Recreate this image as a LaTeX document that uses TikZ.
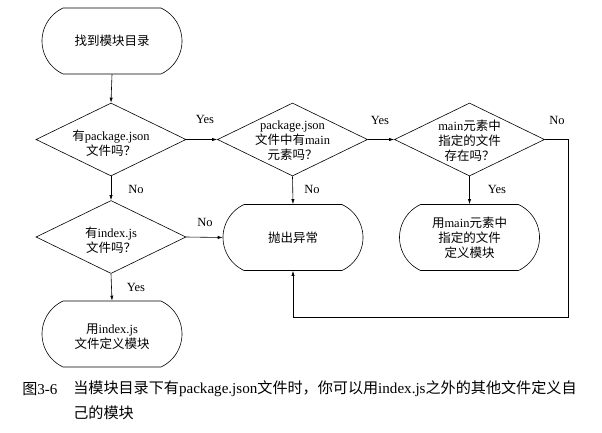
\documentclass[tikz,border=0pt]{standalone}
\usepackage{fontspec}
\setmainfont{Liberation Serif}
\newfontfamily\cjk{Noto Sans CJK SC}
\usetikzlibrary{shapes.geometric,shapes.misc,arrows.meta}
\newcommand\zh[1]{{\cjk #1}}
\begin{document}
\begin{tikzpicture}[x=1pt,y=-1pt,
  line width=0.6pt,
  every node/.style={font=\fontsize{12.5}{15}\selectfont},
  term/.style={draw,rounded rectangle,rounded rectangle arc length=130,
    minimum width=140pt,minimum height=66pt,inner sep=0pt},
  dia/.style={draw,diamond,minimum width=150pt,minimum height=73pt,inner sep=0pt},
  txt/.style={align=center,inner sep=0pt},
  lbl/.style={inner sep=0pt},
  arr/.style={-{Latex[length=5pt,width=3.2pt]}},
  capt/.style={inner sep=0pt,anchor=west,font=\fontsize{15.1}{17}\selectfont}
]
\useasboundingbox (0,0) rectangle (602,432);
\node[term] (t0) at (112,41) {};
\node[txt] at (t0) {\zh{找到模块目录}};
\node[dia] (d1) at (111,139.5) {};
\node[txt] at (111,143) {\zh{有}package.json\\\zh{文件吗？}};
\node[dia] (d2) at (292.5,139.5) {};
\node[txt] at (292.5,141) {package.json\\\zh{文件中有}main\\\zh{元素吗？}};
\node[dia] (d3) at (469.5,139.5) {};
\node[txt] at (469.5,141) {main\zh{元素中}\\\zh{指定的文件}\\\zh{存在吗？}};
\node[dia] (d4) at (111,237) {};
\node[txt] at (111,240) {\zh{有}index.js\\\zh{文件吗？}};
\node[term] (t1) at (293,237.5) {};
\node[txt] at (t1) {\zh{抛出异常}};
\node[term] (t2) at (469.5,237.5) {};
\node[txt] at (t2) {\zh{用}main\zh{元素中}\\\zh{指定的文件}\\\zh{定义模块}};
\node[term] (t3) at (112,334) {};
\node[txt] at (112,337) {\zh{用}index.js\\\zh{文件定义模块}};
\coordinate (c1) at (568,139.5);
\coordinate (c2) at (568,317);
\coordinate (c3) at (293,317);
\draw[arr] (t0.south) -- (d1.north);
\draw[arr] (d1.east) -- (d2.west);
\draw[arr] (d2.east) -- (d3.west);
\draw[arr] (d1.south) -- (d4.north);
\draw[arr] (d2.south) -- (t1.north);
\draw[arr] (d3.south) -- (t2.north);
\draw[arr] (d4.east) -- (t1.west);
\draw[arr] (d4.south) -- (t3.north);
\draw[arr] (d3.east) -- (c1) -- (c2) -- (c3) -- (t1.south);
\node[lbl] (y1) at (205,119) {Yes};
\node[lbl] (y2) at (380,120) {Yes};
\node[lbl] (n3) at (557,120) {No};
\node[lbl] (n1) at (136,189) {No};
\node[lbl] (n2) at (312,189) {No};
\node[lbl] (y3) at (497,189) {Yes};
\node[lbl] (n4) at (205,222) {No};
\node[lbl] (y4) at (136,287) {Yes};
\node[capt] (cap0) at (22,389) {\zh{图}3-6};
\node[capt] (cap1) at (73,389) {\zh{当模块目录下有}package.json\zh{文件时，你可以用}index.js\zh{之外的其他文件定义自}};
\node[capt] (cap2) at (73,413) {\zh{己的模块}};
\end{tikzpicture}
\end{document}
